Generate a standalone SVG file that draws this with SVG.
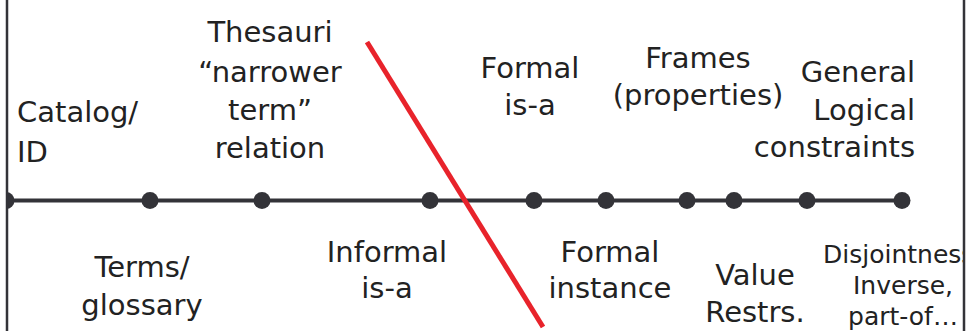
<svg xmlns="http://www.w3.org/2000/svg" width="967" height="331" viewBox="0 0 967 331">
<style>
  .t { font-family: "Comic Sans MS", "DejaVu Sans", sans-serif; font-size: 29px; fill: #222; }
  .s { font-size: 25px; }
  .m { text-anchor: middle; }
  .e { text-anchor: end; }
  .dot { fill: #333338; }
</style>
<defs>
  <clipPath id="inner"><rect x="7" y="0" width="956" height="331"/></clipPath>
</defs>
<rect width="967" height="331" fill="#fff"/>
<g clip-path="url(#inner)">
  <g id="connectors">
    <line x1="0" y1="200.5" x2="902" y2="200.5" stroke="#333338" stroke-width="4"/>
  </g>
  <g id="n0"><circle class="dot" cx="6" cy="200.5" r="8.5"/>
    <text class="t" x="17" y="122">Catalog/</text><text class="t" x="17" y="162">ID</text></g>
  <g id="n1"><circle class="dot" cx="150" cy="200.5" r="8.5"/>
    <text class="t m" x="142" y="277">Terms/</text><text class="t m" x="142" y="315">glossary</text></g>
  <g id="n2"><circle class="dot" cx="262" cy="200.5" r="8.5"/>
    <text class="t m" x="270" y="42">Thesauri</text><text class="t m" x="270" y="82">“narrower</text>
    <text class="t m" x="270" y="120">term”</text><text class="t m" x="270" y="158">relation</text></g>
  <g id="n3"><circle class="dot" cx="430" cy="200.5" r="8.5"/>
    <text class="t m" x="387" y="262">Informal</text><text class="t m" x="387" y="298">is-a</text></g>
  <g id="n4"><circle class="dot" cx="534" cy="200.5" r="8.5"/>
    <text class="t m" x="530" y="78">Formal</text><text class="t m" x="530" y="115">is-a</text></g>
  <g id="n5"><circle class="dot" cx="606" cy="200.5" r="8.5"/>
    <text class="t m" x="610" y="262">Formal</text><text class="t m" x="610" y="298">instance</text></g>
  <g id="n6"><circle class="dot" cx="687" cy="200.5" r="8.5"/>
    <text class="t m" x="698" y="68">Frames</text><text class="t m" x="698" y="105">(properties)</text></g>
  <g id="n7"><circle class="dot" cx="734" cy="200.5" r="8.5"/>
    <text class="t m" x="755" y="285">Value</text><text class="t m" x="755" y="322">Restrs.</text></g>
  <g id="n8"><circle class="dot" cx="807" cy="200.5" r="8.5"/>
    <text class="t e" x="915" y="82">General</text><text class="t e" x="915" y="120">Logical</text>
    <text class="t e" x="915" y="157">constraints</text></g>
  <g id="n9"><circle class="dot" cx="902" cy="200.5" r="8.5"/>
    <text class="t s" x="823" y="263">Disjointness:</text><text class="t s m" x="903" y="294">Inverse,</text>
    <text class="t s m" x="903" y="325">part-of…</text></g>
  <g id="divider"><line x1="367" y1="42" x2="543" y2="327" stroke="#e8232b" stroke-width="5"/></g>
</g>
<g id="frame" stroke="#333338" stroke-width="2.5">
  <line x1="7" y1="0" x2="7" y2="331"/>
  <line x1="964" y1="0" x2="964" y2="331"/>
</g>
</svg>
